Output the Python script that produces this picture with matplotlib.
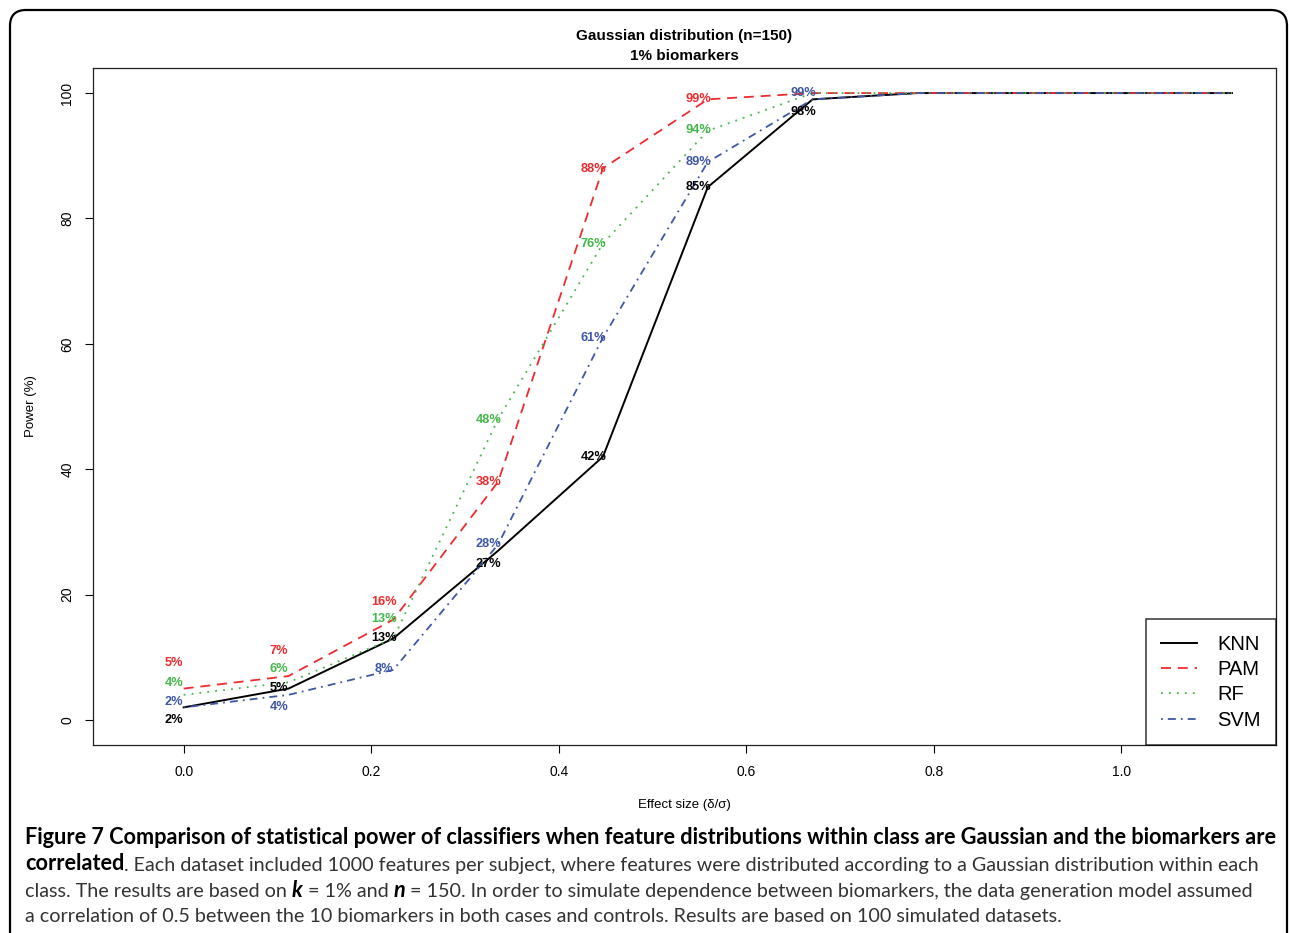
import matplotlib
matplotlib.use("Agg")
import matplotlib.pyplot as plt
from matplotlib.patches import FancyBboxPatch

# ---------------- data ----------------
effect_size = [0.0, 0.1118, 0.2236, 0.3354, 0.4472, 0.5590, 0.6708,
               0.7826, 0.8944, 1.0062, 1.1180]
knn = [2, 5, 13, 27, 42, 85, 99, 100, 100, 100, 100]
pam = [5, 7, 16, 38, 88, 99, 100, 100, 100, 100, 100]
rf = [4, 6, 13, 48, 76, 94, 100, 100, 100, 100, 100]
svm = [2, 4, 8, 28, 61, 89, 99, 100, 100, 100, 100]

knn_labels = ["2%", "5%", "13%", "27%", "42%", "85%", "98%"]
knn_label_y = [0, 5.1, 13.1, 24.9, 41.9, 85, 97]
pam_labels = ["5%", "7%", "16%", "38%", "88%", "99%"]
pam_label_y = [9.1, 11, 18.8, 37.9, 87.9, 99]
rf_labels = ["4%", "6%", "13%", "48%", "76%", "94%"]
rf_label_y = [5.9, 8.1, 16.1, 47.9, 75.9, 94.1]
svm_labels = ["2%", "4%", "8%", "28%", "61%", "89%", "99%"]
svm_label_y = [2.9, 2.1, 8.1, 28, 60.9, 89, 100]

series_names = ["KNN", "PAM", "RF", "SVM"]
x_ticks = [0.0, 0.2, 0.4, 0.6, 0.8, 1.0]
y_ticks = [0, 20, 40, 60, 80, 100]

title_text = "Gaussian distribution (n=150)\n1% biomarkers"
xlabel_text = "Effect size (δ/σ)"
ylabel_text = "Power (%)"

# ---------------- style ----------------
W, H = 1290, 933
DPI = 100
FONT = "Liberation Sans"
colors = {"KNN": "#000000", "PAM": "#ee2b2f", "RF": "#45b649", "SVM": "#3d57a7"}
dashes = {"KNN": None, "PAM": (5.5, 3.8), "RF": (1.0, 3.4), "SVM": (1.0, 2.8, 4.4, 2.8)}

fig = plt.figure(figsize=(W / DPI, H / DPI), dpi=DPI)
fig.patch.set_facecolor("white")

# rounded border
border = FancyBboxPatch((10 / DPI, -0.5), (1287 - 10) / DPI, (H - 10) / DPI + 0.5,
                        boxstyle="round,pad=0,rounding_size=0.16",
                        transform=fig.dpi_scale_trans, fill=False,
                        edgecolor="black", linewidth=1.6, zorder=0)
fig.patches.append(border)

ax = fig.add_axes([93 / W, 1 - 745 / H, (1276 - 93) / W, (745 - 68) / H])

series = {"KNN": knn, "PAM": pam, "RF": rf, "SVM": svm}
label_sets = {"KNN": (knn_labels, knn_label_y), "PAM": (pam_labels, pam_label_y),
              "RF": (rf_labels, rf_label_y), "SVM": (svm_labels, svm_label_y)}

for name in series_names:
    kw = dict(color=colors[name], linewidth=1.4 if name == "KNN" else 1.3, label=name)
    line, = ax.plot(effect_size, series[name], **kw)
    if dashes[name] is not None:
        line.set_dashes(dashes[name])
    texts, ys = label_sets[name]
    for i, (t, yv) in enumerate(zip(texts, ys)):
        ax.text(effect_size[i] - 0.01, yv, t, color=colors[name], fontsize=9.2,
                fontweight="bold", family=FONT, ha="center", va="center")

ax.set_xlim(-0.0967, 1.165)
ax.set_ylim(-4, 104)
ax.set_xticks(x_ticks)
ax.set_xticklabels([f"{v:.1f}" for v in x_ticks], family=FONT, fontsize=10)
ax.set_yticks(y_ticks)
ax.set_yticklabels([str(v) for v in y_ticks], family=FONT, fontsize=10,
                   rotation=90, va="center")
ax.tick_params(axis="both", direction="out", length=5.5, width=0.8, color="black")
ax.tick_params(axis="x", pad=9)
ax.tick_params(axis="y", pad=8)
for sp in ax.spines.values():
    sp.set_linewidth(0.9)
    sp.set_color("#222222")

ax.set_xlabel(xlabel_text, family=FONT, fontsize=9.5, labelpad=14)
ax.set_ylabel(ylabel_text, family=FONT, fontsize=9.5, labelpad=17)
ax.set_title(title_text, family=FONT, fontsize=11, fontweight="bold",
             linespacing=1.55, pad=6)

leg = ax.legend(loc="lower right", bbox_to_anchor=(1.0, 0.0), borderaxespad=0,
                frameon=True, fancybox=False, edgecolor="black",
                prop={"family": FONT, "size": 14.5}, handlelength=1.8,
                handletextpad=1.0, labelspacing=0.32, borderpad=0.75)
leg.get_frame().set_linewidth(1.1)

# ---------------- caption ----------------
renderer = fig.canvas.get_renderer()
CFONT = "Lato"
bold_c = "#000000"
reg_c = "#333333"

line1 = ("Figure 7 Comparison of statistical power of classifiers when feature "
         "distributions within class are Gaussian and the biomarkers are")
line4 = ("a correlation of 0.5 between the 10 biomarkers in both cases and "
         "controls. Results are based on 100 simulated datasets.")


def width_of(txt, size, weight="normal"):
    t = fig.text(0, 0, txt, fontsize=size, fontweight=weight, family=CFONT)
    w = t.get_window_extent(renderer).width
    t.remove()
    return w


def fit_size(txt, target, weight):
    s = 12.0
    for _ in range(3):
        s = s * target / width_of(txt, s, weight)
    return s


bold_fs = fit_size(line1, 1276 - 25, "bold")
reg_fs = fit_size(line4, 1063 - 25, "normal")
space_w = width_of("a a", reg_fs) - width_of("aa", reg_fs)


def draw_line(pieces, y_px, x0=25):
    x = x0
    for txt, weight, style, color, gap in pieces:
        size = bold_fs if weight == "bold" else reg_fs
        t = fig.text(x / W, 1 - y_px / H, txt, fontsize=size, fontweight=weight,
                     fontstyle=style, color=color, family=CFONT,
                     ha="left", va="baseline")
        bb = t.get_window_extent(renderer)
        x = bb.x1 + (space_w if gap else 0)


draw_line([(line1, "bold", "normal", bold_c, False)], 844)
draw_line([("correlated", "bold", "normal", bold_c, False),
           (". Each dataset included 1000 features per subject, where features were "
            "distributed according to a Gaussian distribution within each",
            "normal", "normal", reg_c, False)], 870.5)
draw_line([("class. The results are based on", "normal", "normal", reg_c, True),
           ("k", "bold", "italic", bold_c, True),
           ("= 1% and", "normal", "normal", reg_c, True),
           ("n", "bold", "italic", bold_c, True),
           ("= 150. In order to simulate dependence between biomarkers, the data "
            "generation model assumed", "normal", "normal", reg_c, False)], 896.8)
draw_line([(line4, "normal", "normal", reg_c, False)], 922.5)

fig.savefig("out.png", dpi=DPI, facecolor="white")
